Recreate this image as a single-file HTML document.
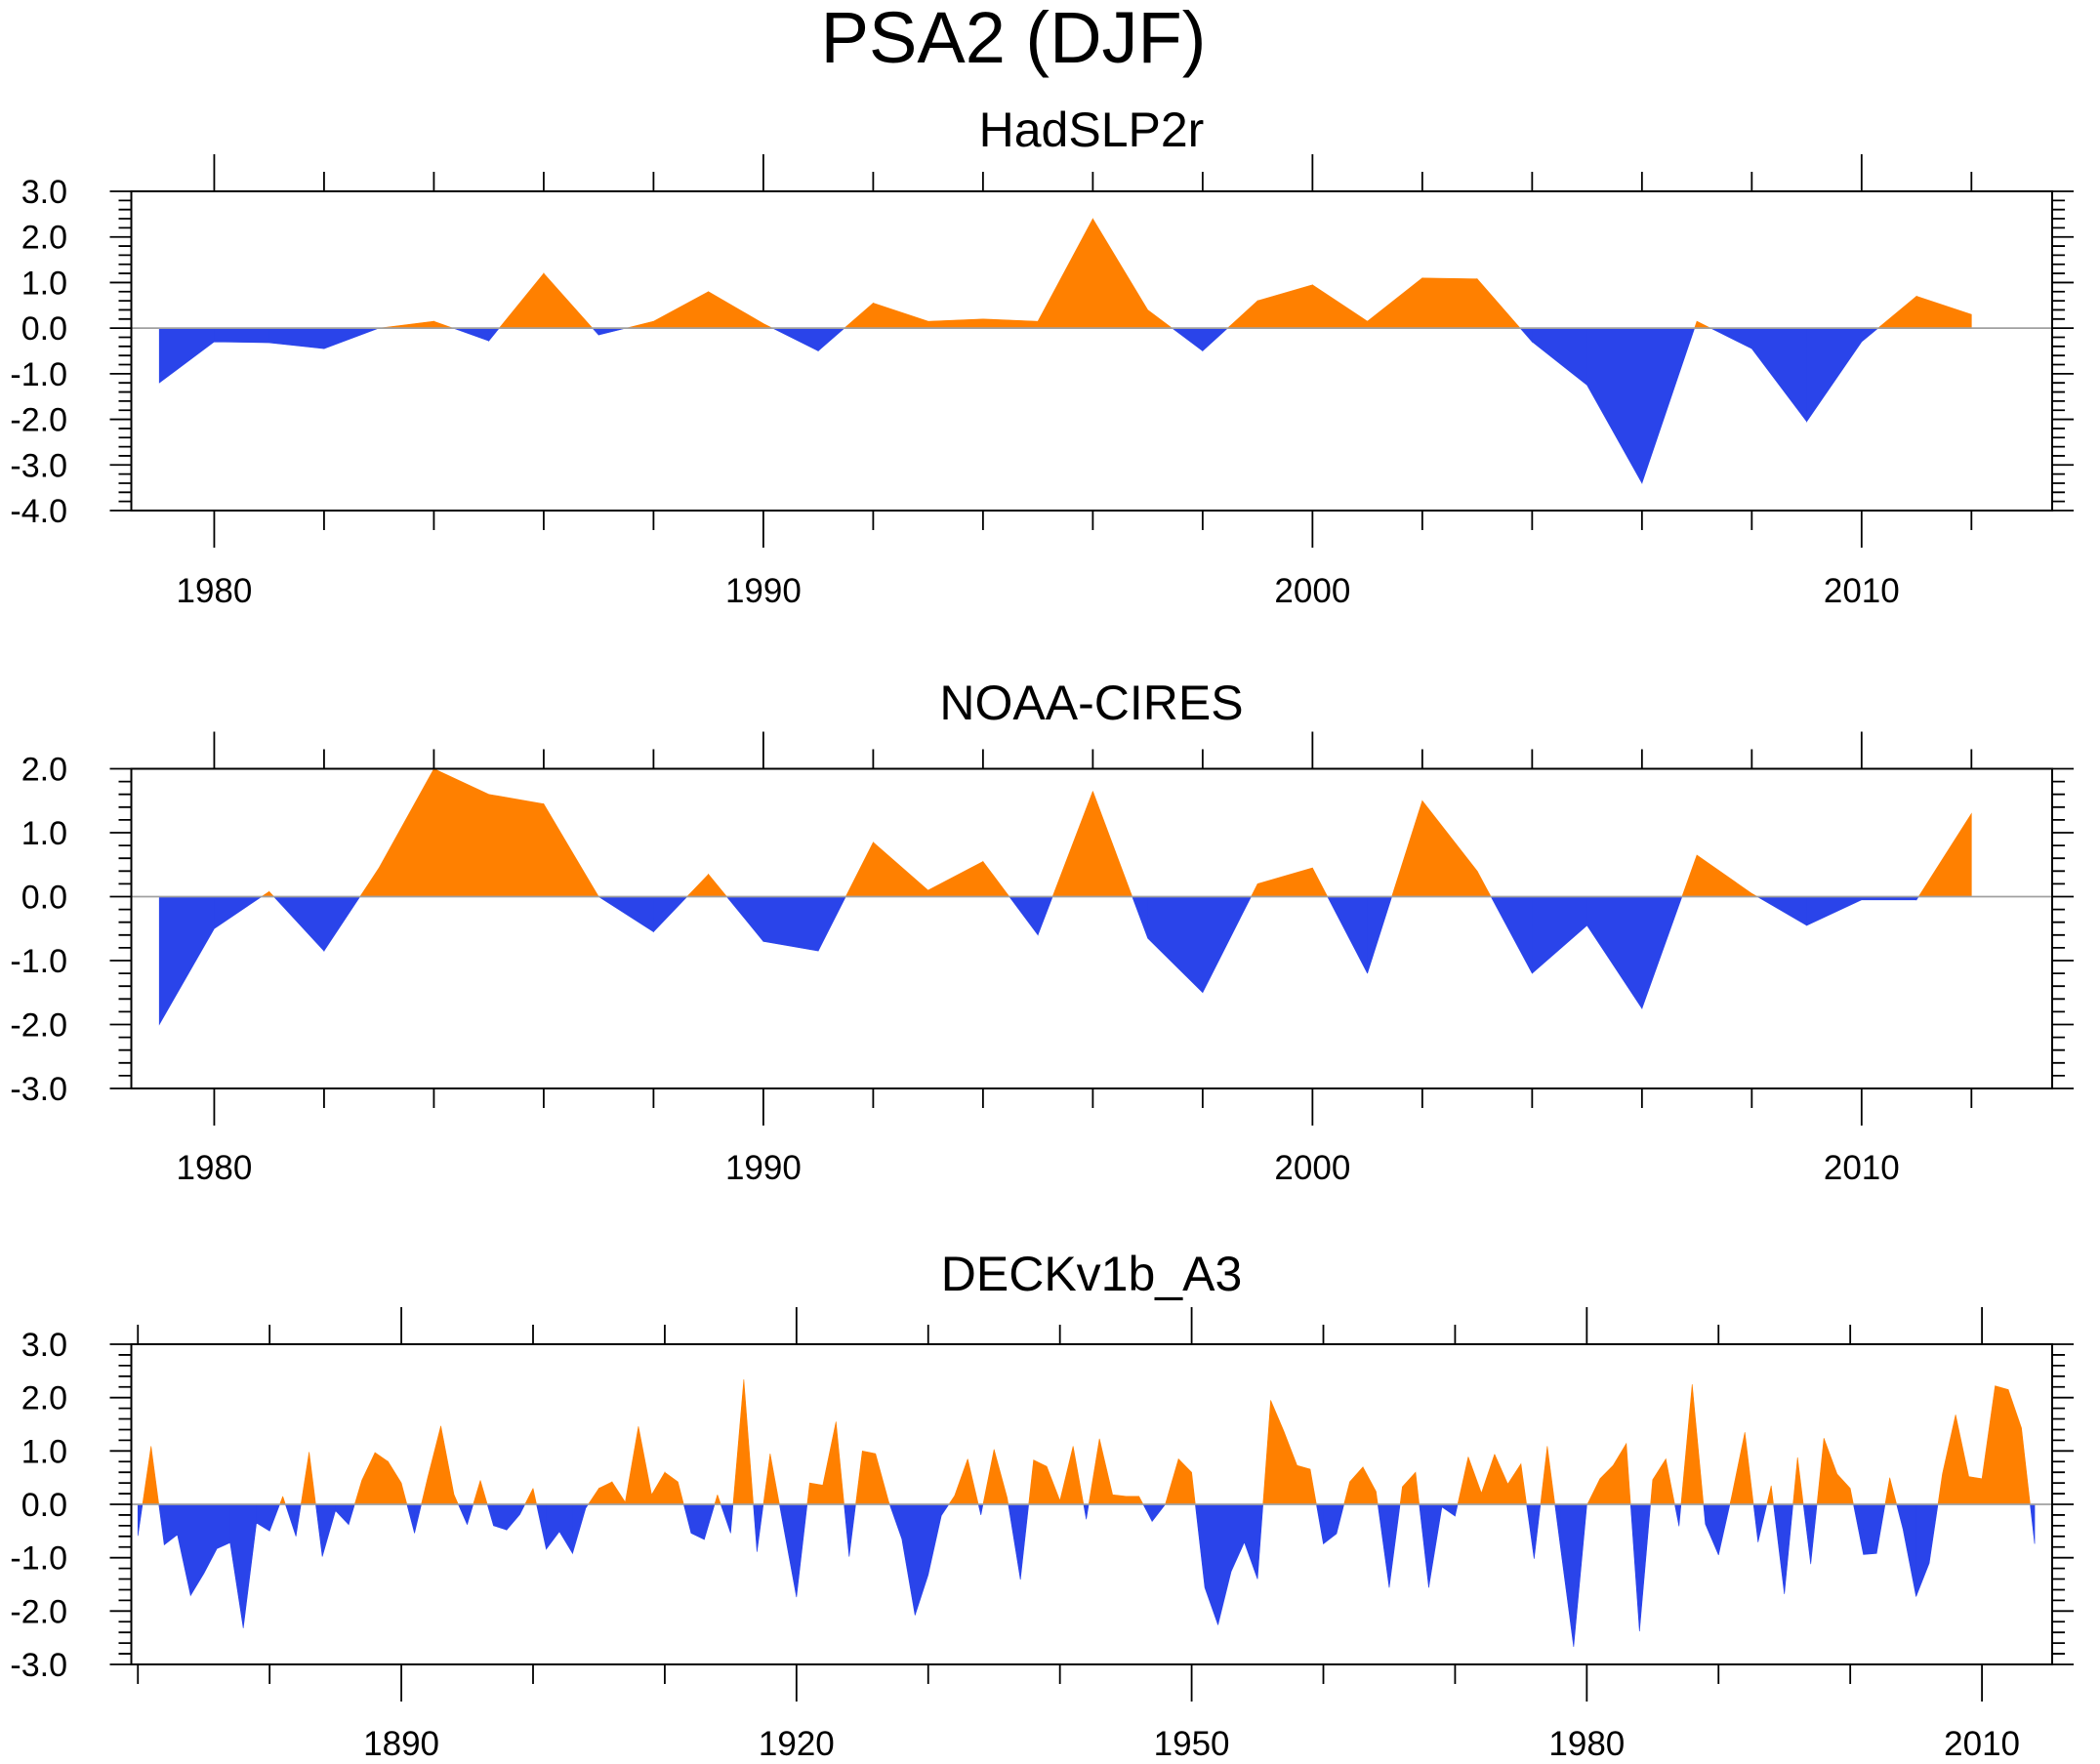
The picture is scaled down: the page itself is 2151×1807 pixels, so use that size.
<!DOCTYPE html>
<html><head><meta charset="utf-8"><style>
html,body{margin:0;padding:0;background:#fff;}
svg{display:block;font-family:"Liberation Sans",sans-serif;}
</style></head><body>
<svg id="chart" width="2151" height="1807" viewBox="0 0 2151 1807" xmlns="http://www.w3.org/2000/svg">
<text x="1038" y="64" font-size="74" text-anchor="middle">PSA2 (DJF)</text>
</svg>
<script>
const hadYears0 = 1979;
const hadValues = [-1.2,-0.3,-0.32,-0.45,0.0,0.15,-0.28,1.2,-0.15,0.15,0.8,0.1,-0.5,0.55,0.15,0.2,0.15,2.4,0.4,-0.5,0.6,0.95,0.15,1.1,1.08,-0.3,-1.25,-3.4,0.15,-0.45,-2.05,-0.3,0.7,0.3];
const noaaYears0 = 1979;
const noaaValues = [-2.0,-0.5,0.08,-0.85,0.45,2.0,1.6,1.45,0.0,-0.55,0.35,-0.7,-0.85,0.85,0.1,0.55,-0.6,1.65,-0.65,-1.5,0.2,0.45,-1.2,1.5,0.4,-1.2,-0.45,-1.75,0.65,0.05,-0.45,-0.05,-0.05,1.3];
const deckYears0 = 1870;
const deckValues = [-0.59,1.09,-0.76,-0.57,-1.71,-1.3,-0.83,-0.72,-2.32,-0.35,-0.5,0.15,-0.6,0.98,-0.98,-0.12,-0.38,0.45,0.97,0.8,0.4,-0.54,0.5,1.47,0.18,-0.38,0.45,-0.4,-0.48,-0.19,0.3,-0.84,-0.51,-0.92,-0.07,0.3,0.42,0.04,1.46,0.18,0.6,0.42,-0.54,-0.66,0.18,-0.54,2.34,-0.89,0.95,-0.4,-1.74,0.4,0.36,1.55,-0.98,1.0,0.95,0.05,-0.65,-2.08,-1.32,-0.21,0.16,0.85,-0.2,1.03,0.12,-1.41,0.83,0.71,0.07,1.09,-0.28,1.23,0.18,0.15,0.15,-0.32,0.0,0.85,0.6,-1.56,-2.26,-1.26,-0.71,-1.4,1.95,1.37,0.73,0.66,-0.74,-0.55,0.42,0.7,0.24,-1.56,0.33,0.6,-1.56,-0.05,-0.22,0.89,0.21,0.94,0.38,0.76,-1.02,1.09,-0.8,-2.67,-0.02,0.48,0.73,1.14,-2.38,0.46,0.85,-0.41,2.25,-0.37,-0.95,0.15,1.35,-0.71,0.35,-1.68,0.88,-1.12,1.24,0.57,0.3,-0.94,-0.92,0.5,-0.46,-1.73,-1.1,0.57,1.68,0.52,0.48,2.22,2.15,1.43,-0.74];
const hadYTicks = [3,2,1,0,-1,-2,-3,-4];
const noaaYTicks = [2,1,0,-1,-2,-3];
const deckYTicks = [3,2,1,0,-1,-2,-3];
const hadXLabels = [1980,1990,2000,2010];
const deckXLabels = [1890,1920,1950,1980,2010];

const NS = "http://www.w3.org/2000/svg";
const svg = document.getElementById('chart');
function mk(tag, attrs){const e=document.createElementNS(NS,tag);for(const k in attrs)e.setAttribute(k,attrs[k]);return e;}

function panel(opt){
  const g = mk('g',{});
  
  
  svg.appendChild(g);
  const L=134.5,R=2102,T=opt.top,B=opt.bottom;
  const xs = y => L + (y-opt.x0)/(opt.x1-opt.x0)*(R-L);
  const ys = v => T + (opt.ymax-v)/(opt.ymax-opt.ymin)*(B-T);
  const t = mk('text',{x:1118,y:opt.titleY,'font-size':50,'text-anchor':'middle'});
  t.textContent = opt.title;
  
  
  g.appendChild(t);
  const vals=opt.values, y0=opt.y0;
  const px=[],py=[];
  for(let i=0;i<vals.length;i++){px.push(xs(y0+i));py.push(vals[i]);}
  let dPos='', dNeg='';
  const z=ys(0);
  for(let i=0;i<vals.length-1;i++){
    const xa=px[i],xb=px[i+1],va=py[i],vb=py[i+1];
    const segs=[];
    if((va>=0&&vb>=0)||(va<=0&&vb<=0)) segs.push([xa,va,xb,vb]);
    else {const xc=xa+(xb-xa)*(va/(va-vb)); segs.push([xa,va,xc,0]); segs.push([xc,0,xb,vb]);}
    for(const s of segs){
      const d=`M${s[0]},${z}L${s[0]},${ys(s[1])}L${s[2]},${ys(s[3])}L${s[2]},${z}Z`;
      if(s[1]+s[3]>=0) dPos+=d; else dNeg+=d;
    }
  }
  const fp=mk('path',{d:dPos,fill:'#ff8000',stroke:'#ff8000','stroke-width':0.6});
  
  
  g.appendChild(fp);
  const fn=mk('path',{d:dNeg,fill:'#2a44ea',stroke:'#2a44ea','stroke-width':0.6});
  
  
  g.appendChild(fn);
  const zl=mk('line',{x1:L,x2:R,y1:z,y2:z,stroke:'#a0a0a0','stroke-width':1.8});
  
  
  g.appendChild(zl);
  const fr=mk('rect',{x:L,y:T,width:R-L,height:B-T,fill:'none',stroke:'#000','stroke-width':2});
  
  
  g.appendChild(fr);
  let tk='';
  for(let v=opt.ymin; v<=opt.ymax+1e-6; v+=0.2){
    const y=ys(v); const major=Math.abs(v-Math.round(v))<1e-6;
    const len=major?22:13;
    tk+=`M${L},${y}L${L-len},${y}M${R},${y}L${R+len},${y}`;
  }
  for(let yr=Math.ceil(opt.x0); yr<=opt.x1; yr++){
    if(yr%opt.minor!==0) continue;
    const x=xs(yr); const len=(yr%opt.major===0)?38:20;
    tk+=`M${x},${T}L${x},${T-len}M${x},${B}L${x},${B+len}`;
  }
  const tp=mk('path',{d:tk,stroke:'#000','stroke-width':1.8,fill:'none'});
  
  
  g.appendChild(tp);
  for(const v of opt.yTicks){
    const e=mk('text',{x:69,y:ys(v)+12,'font-size':34,'text-anchor':'end'});
    e.textContent=v.toFixed(1);
    
    
    g.appendChild(e);
  }
  for(const yr of opt.xLabels){
    const e=mk('text',{x:xs(yr),y:opt.labelY,'font-size':35,'text-anchor':'middle'});
    e.textContent=String(yr);
    
    
    g.appendChild(e);
  }
}
panel({name:'hadslp2r-panel',title:'HadSLP2r',titleY:150,top:196,bottom:523,ymin:-4,ymax:3,x0:1978.49,x1:2013.47,values:hadValues,y0:hadYears0,yTicks:hadYTicks,xLabels:hadXLabels,minor:2,major:10,labelY:617});
panel({name:'noaa-cires-panel',title:'NOAA-CIRES',titleY:737,top:787.5,bottom:1115,ymin:-3,ymax:2,x0:1978.49,x1:2013.47,values:noaaValues,y0:noaaYears0,yTicks:noaaYTicks,xLabels:hadXLabels,minor:2,major:10,labelY:1208});
panel({name:'deckv1b-a3-panel',title:'DECKv1b_A3',titleY:1322,top:1377,bottom:1705,ymin:-3,ymax:3,x0:1869.5,x1:2015.33,values:deckValues,y0:deckYears0,yTicks:deckYTicks,xLabels:deckXLabels,minor:10,major:30,labelY:1798});
</script>
</body></html>
